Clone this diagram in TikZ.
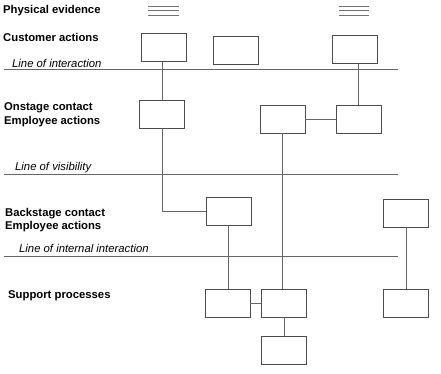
\documentclass[tikz,border=0pt]{standalone}
\usepackage{fontspec}
\setmainfont{Liberation Sans}
\begin{document}
\begin{tikzpicture}[
    x=1pt,
    y=-1pt,
    lane/.style={black!60, line width=0.8pt},
    evidence/.style={black!55, line width=0.9pt},
    box/.style={draw=black!70, line width=0.9pt, minimum width=45pt, minimum height=28pt, inner sep=0pt},
    link/.style={black!60, line width=0.9pt},
    heading/.style={anchor=west, align=left, inner sep=0pt, font=\fontsize{11.3}{13.5}\selectfont\bfseries},
    lanelabel/.style={anchor=west, inner sep=0pt, font=\fontsize{11.3}{13.5}\selectfont\itshape}
]

\useasboundingbox (0,0) rectangle (441,374);

% =========================================================
% PARAMETRI
% =========================================================

\def\laneL{4}
\def\laneR{398}

% =========================================================
% INTESTAZIONI
% =========================================================

\node[heading] (hEvid) at (3,11)    {Physical evidence};
\node[heading] (hCust) at (3,37)    {Customer actions};
\node[heading] (hOn)   at (4,114.5) {Onstage contact\\Employee actions};
\node[heading] (hBack) at (5,220)   {Backstage contact\\Employee actions};
\node[heading] (hSupp) at (8,296)   {Support processes};

% =========================================================
% LINEE
% =========================================================

\draw[lane] (\laneL,69)  -- (\laneR,69);
\draw[lane] (\laneL,174) -- (\laneR,174);
\draw[lane] (\laneL,256) -- (\laneR,256);

\node[lanelabel] (lInter) at (12,63)  {Line of interaction};
\node[lanelabel] (lVis)   at (15,168) {Line of visibility};
\node[lanelabel] (lIntl)  at (19,248) {Line of internal interaction};

% Evidenze fisiche
\foreach \y in {6,10.5,15} {
    \draw[evidence] (148,\y) -- (179,\y);
    \draw[evidence] (339,\y) -- (369,\y);
}

% =========================================================
% CASELLE
% =========================================================

% Cliente
\node[box] (c1) at (163.5,47.5) {};
\node[box] (c2) at (235.5,50)   {};
\node[box] (c3) at (354.5,49.5) {};

% Onstage
\node[box] (o1) at (162,114)   {};
\node[box] (o2) at (282.5,119) {};
\node[box] (o3) at (358.5,119) {};

% Backstage
\node[box] (b1) at (228.5,211) {};
\node[box] (b2) at (406,213)   {};

% Supporto
\node[box] (s1) at (227.5,303) {};
\node[box] (s2) at (284,303)   {};
\node[box] (s3) at (406,303)   {};
\node[box] (s4) at (284,350)   {};

% =========================================================
% COLLEGAMENTI
% =========================================================

\draw[link] (c1.south -| o1) -- (o1.north);
\draw[link] (c3.south -| o3) -- (o3.north);
\draw[link] (o2.east) -- (o3.west);
\draw[link] (o1.south) |- (b1.west);
\draw[link] (o2.south) -- (o2.south |- s2.north);
\draw[link] (b1.south) -- (b1.south |- s1.north);
\draw[link] (b2.south) -- (s3.north);
\draw[link] (s1.east) -- (s2.west);
\draw[link] (s2.south) -- (s4.north);

\end{tikzpicture}
\end{document}
